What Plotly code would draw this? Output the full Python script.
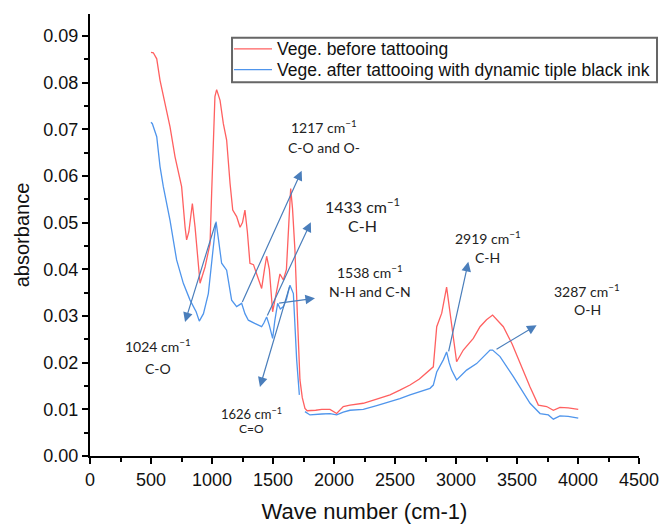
import plotly.graph_objects as go

# Red: before tattooing
before_x = [500, 519, 547, 574, 615, 656, 697, 751, 779, 792, 810, 825, 839, 861, 888, 902, 943, 984, 997, 1011,
            1024, 1038, 1066, 1093, 1120, 1148, 1170, 1202, 1230, 1250, 1270, 1290, 1311, 1340, 1370, 1407, 1430,
            1448, 1470, 1489, 1497, 1520, 1557, 1585, 1610, 1630, 1645, 1660, 1680, 1700, 1721, 1740, 1762, 1780,
            1800, 1850, 1900, 1967, 2022, 2076, 2131, 2240, 2350, 2459, 2540, 2623, 2700, 2787, 2814, 2842, 2883,
            2923, 2944, 2964, 3005, 3060, 3142, 3197, 3250, 3300, 3388, 3460, 3525, 3607, 3675, 3743, 3798, 3852,
            3920, 4002]
before_y = [0.0865, 0.0864, 0.0851, 0.0805, 0.0755, 0.0705, 0.0641, 0.0577, 0.0491, 0.0463, 0.0480, 0.0520, 0.0541,
            0.0491, 0.0420, 0.0370, 0.0405, 0.0455, 0.0562, 0.0700, 0.0770, 0.0785, 0.0762, 0.0712, 0.0677, 0.0584,
            0.0527, 0.0513, 0.0490, 0.0500, 0.0527, 0.0480, 0.0413, 0.0410, 0.0385, 0.0359, 0.0400, 0.0428, 0.0400,
            0.0340, 0.0309, 0.0340, 0.0390, 0.0377, 0.0400, 0.0500, 0.0573, 0.0530, 0.0440, 0.0300, 0.0163, 0.0125,
            0.0102, 0.0097, 0.0097, 0.0098, 0.0100, 0.0100, 0.0091, 0.0106, 0.0109, 0.0113, 0.0122, 0.0131, 0.0141,
            0.0152, 0.0165, 0.0184, 0.0191, 0.0277, 0.0306, 0.0362, 0.0320, 0.0277, 0.0202, 0.0227, 0.0252, 0.0277,
            0.0292, 0.0302, 0.0277, 0.0240, 0.0198, 0.0148, 0.0109, 0.0106, 0.0098, 0.0104, 0.0103, 0.0100]

# Blue: after tattooing (gap near 1740)
after_x = [500, 511, 547, 574, 601, 656, 710, 765, 820, 870, 896, 930, 970, 1000, 1020, 1033, 1050, 1079, 1120, 1161,
           1202, 1243, 1270, 1298, 1350, 1407, 1425, 1448, 1470, 1497, 1515, 1538, 1560, 1585, 1610, 1639, 1667,
           1694, 1716, 1740, 1762, 1803, 1900, 1967, 2022, 2076, 2131, 2240, 2350, 2459, 2540, 2623, 2700, 2787,
           2814, 2842, 2896, 2923, 2944, 2964, 3005, 3087, 3169, 3230, 3279, 3300, 3361, 3470, 3540, 3607, 3689,
           3757, 3798, 3852, 3920, 4002]
after_y = [0.0715, 0.0712, 0.0684, 0.0620, 0.0577, 0.0505, 0.0420, 0.0370, 0.0334, 0.0309, 0.0289, 0.0305, 0.0348,
           0.0420, 0.0480, 0.0502, 0.0470, 0.0413, 0.0398, 0.0334, 0.0320, 0.0327, 0.0305, 0.0291, 0.0284, 0.0277,
           0.0285, 0.0298, 0.0280, 0.0252, 0.0290, 0.0327, 0.0315, 0.0320, 0.0335, 0.0366, 0.0348, 0.0206, 0.0131,
           None, 0.0095, 0.0088, 0.0090, 0.0091, 0.0088, 0.0094, 0.0098, 0.0100, 0.0108, 0.0116, 0.0123, 0.0131,
           0.0138, 0.0145, 0.0152, 0.0180, 0.0206, 0.0223, 0.0200, 0.0184, 0.0163, 0.0184, 0.0198, 0.0215, 0.0227,
           0.0227, 0.0213, 0.0170, 0.0140, 0.0113, 0.0091, 0.0088, 0.0079, 0.0086, 0.0085, 0.0081]

series_names = ["Vege. before tattooing", "Vege. after tattooing with dynamic tiple black ink"]
series_colors = ["#ff6060", "#4f95ec"]

# Peak labels: (line 1, line 2, label x, line1 y, line2 y, font size line1, font size line2)
peak_labels = [
    ("1024 cm<sup>−1</sup>", "C-O", 557, 0.0236, 0.0188, 14, 14),
    ("1217 cm<sup>−1</sup>", "C-O and O-", 1918, 0.0707, 0.0662, 14, 14),
    ("1433 cm<sup>−1</sup>", "C-H", 2230, 0.0537, 0.0493, 16, 16),
    ("1538 cm<sup>−1</sup>", "N-H and C-N", 2295, 0.0396, 0.0353, 14, 14),
    ("1626 cm<sup>−1</sup>", "C=O", 1320, 0.0092, 0.0058, 13, 12),
    ("2919 cm<sup>−1</sup>", "C-H", 3262, 0.0469, 0.0426, 14, 14),
    ("3287 cm<sup>−1</sup>", "O-H", 4074, 0.0354, 0.0313, 14, 14),
]
# Arrows: (head x, head y, tail x, tail y)
arrows = [
    (779, 0.0287, 1033, 0.0502),
    (1735, 0.0611, 1243, 0.0327),
    (1810, 0.0501, 1448, 0.0298),
    (1844, 0.0338, 1538, 0.0327),
    (1393, 0.0148, 1639, 0.0366),
    (3101, 0.0416, 2937, 0.0221),
    (3661, 0.0280, 3320, 0.0227),
]

fig = go.Figure()
fig.add_trace(go.Scatter(x=before_x, y=before_y, mode="lines", name=series_names[0],
                         line=dict(color=series_colors[0], width=1.3)))
fig.add_trace(go.Scatter(x=after_x, y=after_y, mode="lines", name=series_names[1],
                         line=dict(color=series_colors[1], width=1.3), connectgaps=False))

ann_font = "Lato, Open Sans, sans-serif"
for t1, t2, lx, ly1, ly2, fs1, fs2 in peak_labels:
    fig.add_annotation(x=lx, y=ly1, text=t1, showarrow=False, xref="x", yref="y",
                       font=dict(family=ann_font, size=fs1, color="#222"))
    fig.add_annotation(x=lx, y=ly2, text=t2, showarrow=False, xref="x", yref="y",
                       font=dict(family=ann_font, size=fs2, color="#222"))
for hx, hy, tx, ty in arrows:
    fig.add_annotation(x=hx, y=hy, ax=tx, ay=ty, xref="x", yref="y", axref="x", ayref="y",
                       text="", showarrow=True, arrowhead=2, arrowsize=1.6, arrowwidth=1.2,
                       arrowcolor="#4a7ebb")

# Legend box (drawn in paper coordinates to match the compact original legend)
lg_x0, lg_x1 = 0.2587, 1.0328
lg_y0, lg_y1 = 0.8455, 0.9465
fig.add_shape(type="rect", xref="paper", yref="paper", x0=lg_x0, x1=lg_x1, y0=lg_y0, y1=lg_y1,
              line=dict(color="#666", width=2), fillcolor="white", layer="above")
row_y = [0.9213, 0.8740]
for name, color, ry in zip(series_names, series_colors, row_y):
    fig.add_shape(type="line", xref="paper", yref="paper", x0=0.2623, x1=0.3315, y0=ry, y1=ry,
                  line=dict(color=color, width=1.3), layer="above")
    fig.add_annotation(xref="paper", yref="paper", x=0.3370, y=ry, xanchor="left", yanchor="middle",
                       text=name, showarrow=False, font=dict(size=17.5, color="#111"))

fig.update_layout(
    width=662, height=524,
    margin=dict(l=90, r=23, t=14, b=68, autoexpand=False),
    plot_bgcolor="white", paper_bgcolor="white",
    font=dict(family="Liberation Sans, Arial, sans-serif", color="#111"),
    showlegend=False,
)
fig.update_xaxes(range=[0, 4500], dtick=500, tick0=0, showgrid=False, zeroline=False,
                 showline=True, linecolor="black", linewidth=2, automargin=False,
                 ticks="outside", ticklen=6, tickwidth=2, tickcolor="black",
                 minor=dict(dtick=250, ticks="outside", ticklen=4, tickwidth=1.5, tickcolor="black"),
                 tickfont=dict(size=18),
                 title=dict(text="Wave number (cm-1)", font=dict(size=22), standoff=16))
fig.update_yaxes(range=[0, 0.0947], dtick=0.01, tick0=0, tickformat=".2f", showgrid=False, zeroline=False,
                 showline=True, linecolor="black", linewidth=2, automargin=False,
                 ticks="outside", ticklen=6, tickwidth=2, tickcolor="black",
                 minor=dict(dtick=0.005, ticks="outside", ticklen=4, tickwidth=1.5, tickcolor="black"),
                 tickfont=dict(size=18),
                 title=dict(text="absorbance", font=dict(size=20), standoff=8))

fig.write_html("out.html", config={"displayModeBar": False},
               post_script="document.body.style.margin='0';document.body.style.overflow='hidden';")
